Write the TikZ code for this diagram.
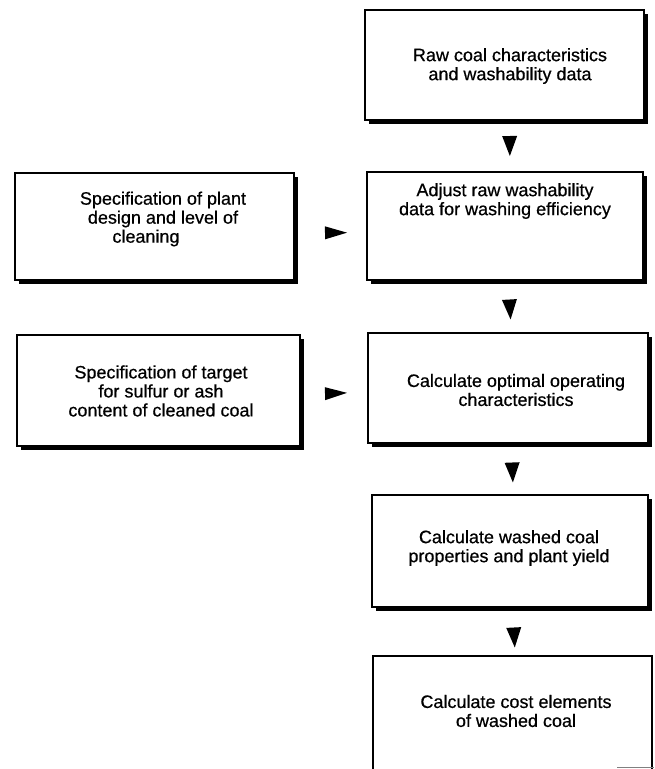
\documentclass[tikz,border=0pt]{standalone}
\usepackage{fontspec}
\setmainfont{Liberation Sans}[FakeBold=0.6]
\usetikzlibrary{shadows,decorations.markings}
\begin{document}
\begin{tikzpicture}[x=1pt,y=1pt,
  box/.style={draw=black, line width=1.4pt, fill=white, inner sep=0pt,
    drop shadow={shadow xshift=4pt, shadow yshift=-4pt, fill=black, opacity=1}},
  plainbox/.style={draw=black, line width=1.4pt, fill=white, inner sep=0pt},
  txt/.style={font=\fontsize{18}{19}\selectfont, align=center, inner sep=0pt},
  downtri/.style={decoration={markings, mark=at position 0.5 with {\fill (10,0) -- (-10,7.5) -- (-10,-7.5) -- cycle;}}, postaction={decorate}},
  righttri/.style={decoration={markings, mark=at position 0.5 with {\fill (11,0) -- (-11,6.5) -- (-11,-6.5) -- cycle;}}, postaction={decorate}},
]
\useasboundingbox (0,0) rectangle (654,-769);
\begin{scope}
\clip (0,0) rectangle (654,-769);

% boxes
\node[box, minimum width=279pt, minimum height=110pt] (b1) at (504.5,-65) {};
\node[box, minimum width=276pt, minimum height=108pt] (b2) at (505,-226) {};
\node[box, minimum width=279pt, minimum height=107pt] (lb1) at (154.5,-226.5) {};
\node[box, minimum width=283pt, minimum height=111pt] (lb2) at (158.5,-390.5) {};
\node[box, minimum width=280pt, minimum height=110pt] (b3) at (508,-388) {};
\node[box, minimum width=276pt, minimum height=112pt] (b4) at (510,-551) {};
\node[plainbox, minimum width=279pt, minimum height=135pt] (b5) at (512.5,-723.5) {};

% texts
\node[txt] (t1) at (510,-66) {Raw coal characteristics\\and washability data};
\node[txt] (t2) at (505,-201) {Adjust raw washability\\data for washing efficiency};
\node[txt] (tl1) at (163,-219) {Specification of plant\\design and level of\\cleaning\hspace*{34pt}};
\node[txt] (tl2) at (161,-391) {Specification of target\\for sulfur or ash\hspace*{20pt}\\content of cleaned coal};
\node[txt] (t3) at (516,-390) {Calculate optimal operating\\characteristics};
\node[txt] (t4) at (509,-548) {Calculate washed coal\\properties and plant yield};
\node[txt] (t5) at (516,-711) {Calculate cost elements\\of washed coal};

% connectors (solid triangles)
\path[downtri] ([shift={(5,0)}]b1.south) -- ([shift={(5,0)}]b2.north);
\path[downtri] ([shift={(3.5,-3)}]b2.south) -- ([shift={(3.5,-3)}]b3.north);
\path[downtri] ([shift={(3.5,-3.5)}]b3.south) -- ([shift={(3.5,-3.5)}]b4.north);
\path[downtri] ([shift={(3,-6)}]b4.south) -- ([shift={(3,-6)}]b5.north);
\path[righttri] ([shift={(5.5,-6.5)}]lb1.east) -- ([shift={(5.5,-6.5)}]b2.west);
\path[righttri] ([shift={(2,-4)}]lb2.east) -- ([shift={(2,-4)}]b3.west);

\draw[gray, line width=0.8pt] (617,-767.5) -- (654,-767.5);
\end{scope}
\end{tikzpicture}
\end{document}
